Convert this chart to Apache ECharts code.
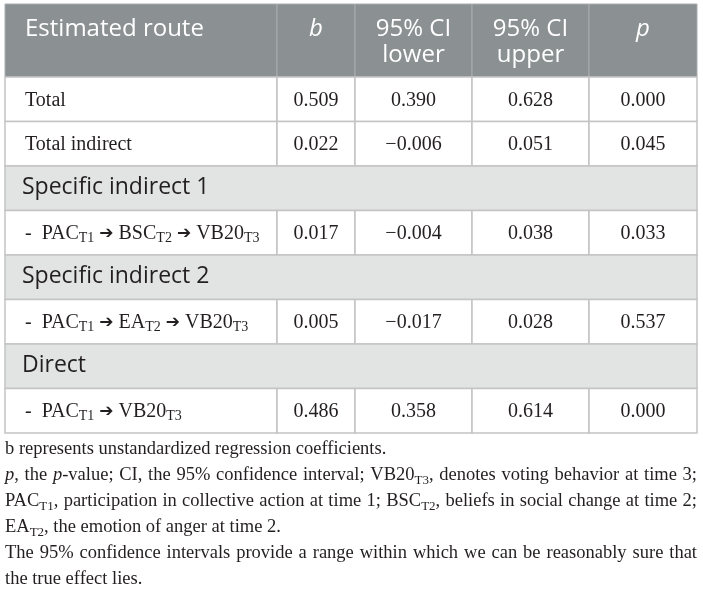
<!DOCTYPE html>
<html>
<head>
<meta charset="utf-8">
<script src="https://cdn.jsdelivr.net/npm/echarts@6/dist/echarts.min.js"></script>
<style>
    html, body { margin: 0; padding: 0; background: #ffffff; }
    #main { width: 703px; height: 595px; }
</style>
</head>
<body>
<div id="main"></div>
<script>
// table content
var headers = ["Estimated route", "{i|b}", "95% CI\nlower", "95% CI\nupper", "{i|p}"];
var routes = [
    "Total",
    "Total indirect",
    "Specific indirect 1",
    "-  PAC{s|T1} {a|➔} BSC{s|T2} {a|➔} VB20{s|T3}",
    "Specific indirect 2",
    "-  PAC{s|T1} {a|➔} EA{s|T2} {a|➔} VB20{s|T3}",
    "Direct",
    "-  PAC{s|T1} {a|➔} VB20{s|T3}",
];
var isSection = [false, false, true, false, true, false, true, false];
var bValues = [0.509, 0.022, null, 0.017, null, 0.005, null, 0.486];
var ciLower = [0.39, -0.006, null, -0.004, null, -0.017, null, 0.358];
var ciUpper = [0.628, 0.051, null, 0.038, null, 0.028, null, 0.614];
var pValues = [0.0, 0.045, null, 0.033, null, 0.537, null, 0.0];
var notes = [
    "b represents unstandardized regression coefficients.",
    "{i|p}, the {i|p}-value; CI, the 95% confidence interval; VB20{s|T3}, denotes voting behavior at time 3;",
    "PAC{s|T1}, participation in collective action at time 1; BSC{s|T2}, beliefs in social change at time 2;",
    "EA{s|T2}, the emotion of anger at time 2.",
    "The 95% confidence intervals provide a range within which we can be reasonably sure that",
    "the true effect lies.",
];
var notesJustified = [false, true, true, false, true, false];

// layout (pixels inside the grid)
var tableW = 692;
var colEdges = [0, 272, 350, 467, 584, 692];
var headerH = 73;
var rowH = 44.5;
var tableH = headerH + rowH * routes.length;

var SANS = '"Open Sans", "Noto Sans", sans-serif';
var SERIF = '"Liberation Serif", "DejaVu Serif", serif';
var INK = "#231f20";
var BODY_SIZE = 20;
var NOTE_SIZE = 18.5;
var HEAD_SIZE = 24;

function makeRich(size) {
    return {
        s: { fontFamily: SERIF, fontSize: Math.round(size * 0.7), lineHeight: 16, verticalAlign: "bottom", fill: INK },
        a: { fontFamily: "DejaVu Sans", fontWeight: "bold", fontSize: 17, lineHeight: 24, fill: INK },
        i: { fontFamily: SERIF, fontStyle: "italic", fontSize: size, lineHeight: 24, fill: INK },
    };
}

function fmt(v) {
    return v.toFixed(3).replace("-", "\u2212");
}

// build cells
var cells = [];
var cellInfo = [];
headers.forEach(function (h, c) {
    cells.push([colEdges[c], colEdges[c + 1], 0, headerH]);
    cellInfo.push({ kind: "head", col: c, text: h });
});
routes.forEach(function (name, r) {
    var y0 = headerH + r * rowH;
    var y1 = y0 + rowH;
    if (isSection[r]) {
        cells.push([0, tableW, y0, y1]);
        cellInfo.push({ kind: "sec", col: 0, text: name });
        return;
    }
    var texts = [name, fmt(bValues[r]), fmt(ciLower[r]), fmt(ciUpper[r]), fmt(pValues[r])];
    texts.forEach(function (t, c) {
        cells.push([colEdges[c], colEdges[c + 1], y0, y1]);
        cellInfo.push({ kind: "body", col: c, text: t });
    });
});

function renderCell(params, api) {
    var p0 = api.coord([api.value(0), api.value(2)]);
    var p1 = api.coord([api.value(1), api.value(3)]);
    var info = cellInfo[params.dataIndex];
    var w = p1[0] - p0[0];
    var h = p1[1] - p0[1];
    var rect = {
        type: "rect",
        shape: { x: p0[0], y: p0[1], width: w, height: h },
        style: { fill: "#ffffff", stroke: "#c4c4c4", lineWidth: 1.5 },
    };
    var txt;
    if (info.kind === "head") {
        rect.style.fill = "#8b9093";
        rect.style.stroke = "#a9adaf";
        rect.style.lineWidth = 1;
        txt = {
            type: "text",
            style: {
                text: info.text,
                x: info.col === 0 ? p0[0] + 20 : p0[0] + w / 2,
                y: p0[1] + 12,
                align: info.col === 0 ? "left" : "center",
                verticalAlign: "top",
                fontFamily: SANS,
                fontSize: HEAD_SIZE,
                lineHeight: 26,
                fill: "#ffffff",
                rich: { i: { fontFamily: SANS, fontStyle: "italic", fontSize: HEAD_SIZE, lineHeight: 26, fill: "#ffffff" } },
            },
        };
    } else if (info.kind === "sec") {
        rect.style.fill = "#e2e4e4";
        txt = {
            type: "text",
            style: {
                text: info.text,
                x: p0[0] + 17,
                y: p0[1] + h / 2 - 1,
                align: "left",
                verticalAlign: "middle",
                fontFamily: SANS,
                fontSize: 23,
                fill: INK,
            },
        };
    } else {
        txt = {
            type: "text",
            style: {
                text: info.text,
                x: info.col === 0 ? p0[0] + 20 : p0[0] + w / 2,
                y: p0[1] + h / 2 + 1,
                align: info.col === 0 ? "left" : "center",
                verticalAlign: "middle",
                fontFamily: SERIF,
                fontSize: BODY_SIZE,
                lineHeight: 24,
                fill: INK,
                rich: makeRich(BODY_SIZE),
            },
        };
    }
    return { type: "group", children: [rect, txt] };
}

// notes below the table, justified like the source
var measureCtx = document.createElement("canvas").getContext("2d");
function fontFor(tag) {
    if (tag === "i") return "italic " + NOTE_SIZE + "px " + SERIF;
    if (tag === "s") return Math.round(NOTE_SIZE * 0.7) + "px " + SERIF;
    return NOTE_SIZE + "px " + SERIF;
}
function wordWidth(word) {
    var re = /\{(\w)\|([^}]*)\}/g;
    var last = 0, m, wsum = 0;
    while ((m = re.exec(word))) {
        measureCtx.font = fontFor("");
        wsum += measureCtx.measureText(word.slice(last, m.index)).width;
        measureCtx.font = fontFor(m[1]);
        wsum += measureCtx.measureText(m[2]).width;
        last = re.lastIndex;
    }
    measureCtx.font = fontFor("");
    wsum += measureCtx.measureText(word.slice(last)).width;
    return wsum;
}

var notesLeft = 5;
var notesTop = 449;
var notesStep = 26;
var noteRich = makeRich(NOTE_SIZE);
var noteGraphics = [];
notes.forEach(function (line, k) {
    var y = notesTop + k * notesStep;
    var words = notesJustified[k] ? line.split(" ") : [line];
    var widths = words.map(wordWidth);
    var total = widths.reduce(function (a, b) { return a + b; }, 0);
    var gap = words.length > 1 ? (tableW - total) / (words.length - 1) : 0;
    var x = notesLeft;
    words.forEach(function (wd, j) {
        noteGraphics.push({
            type: "text",
            x: x,
            y: y,
            silent: true,
            style: {
                text: wd,
                fontFamily: SERIF,
                fontSize: NOTE_SIZE,
                lineHeight: 24,
                verticalAlign: "middle",
                fill: INK,
                rich: noteRich,
            },
        });
        x += widths[j] + gap;
    });
});

var chart = echarts.init(document.getElementById("main"), null, { renderer: "canvas" });
var option = {
    backgroundColor: "#ffffff",
    animation: false,
    grid: { left: 5, top: 4, width: tableW, height: tableH },
    xAxis: { type: "value", min: 0, max: tableW, show: false },
    yAxis: { type: "value", min: 0, max: tableH, inverse: true, show: false },
    series: [
        {
            type: "custom",
            silent: true,
            renderItem: renderCell,
            encode: { x: [0, 1], y: [2, 3] },
            data: cells,
        },
    ],
    graphic: noteGraphics,
};
chart.setOption(option);
</script>
</body>
</html>
